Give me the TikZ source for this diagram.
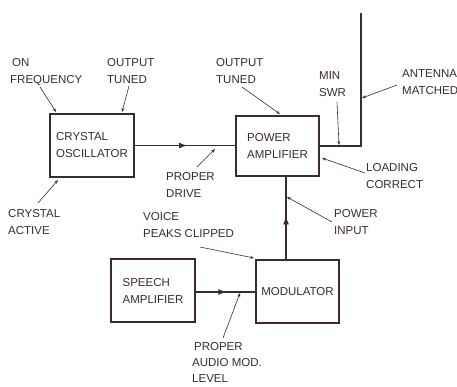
\documentclass[tikz,border=0pt]{standalone}
\usepackage{fontspec}
\setmainfont{Liberation Sans}
\usetikzlibrary{arrows.meta,decorations.markings}
\definecolor{ink}{RGB}{62,42,46}
\tikzset{
  lbl/.style={inner sep=0pt, anchor=north west, align=left, text=ink,
              font=\fontsize{11.5}{17}\selectfont},
  blk/.style={draw=ink, line width=1.2pt, inner sep=0pt, align=left, text=ink,
              font=\fontsize{11.5}{17}\selectfont},
  wire/.style={draw=ink, line width=1.2pt},
  midarrow/.style={postaction={decorate, decoration={markings,
      mark=at position #1 with {\arrow{Latex[length=8pt,width=6pt]}}}}},
  pointer/.style={draw=ink, line width=0.6pt, -{Stealth[length=4pt,width=3pt]}}
}
\begin{document}
\begin{tikzpicture}[x=1pt,y=-1pt]
\useasboundingbox (0,0) rectangle (457,386);
\fill[white] (0,0) rectangle (457,386);

% blocks
\node[blk, minimum width=84pt, minimum height=63pt] (xo)  at (92,145.5)  {CRYSTAL\\OSCILLATOR};
\node[blk, minimum width=83pt, minimum height=60pt] (pa)  at (277.5,146) {POWER\\AMPLIFIER};
\node[blk, minimum width=84pt, minimum height=63pt] (sp)  at (153,290.5) {SPEECH\\AMPLIFIER};
\node[blk, minimum width=83pt, minimum height=63pt] (mod) at (297.5,291.5) {MODULATOR};

% main signal paths
\draw[wire, midarrow=0.52] (xo.east) -- (xo.east -| pa.west);
\coordinate (pin) at (286,220);
\draw[wire, midarrow=0.52] (pin |- mod.north) -- (pin |- pa.south);
\coordinate (spl) at (195,292);
\draw[wire, midarrow=0.52] (spl) -- (spl -| mod.west);
\coordinate (ant) at (361,13);
\draw[wire] (pa.east) -| (ant);

% labels
\node[lbl] (onf)  at (10,58)   {\,ON\\FREQUENCY};
\node[lbl] (ot1)  at (107,58)  {OUTPUT\\TUNED};
\node[lbl] (pdr)  at (166,172) {PROPER\\DRIVE};
\node[lbl] (cra)  at (8,209)   {CRYSTAL\\ACTIVE};
\node[lbl] (ot2)  at (216,58)  {OUTPUT\\TUNED};
\node[lbl] (swr)  at (319,71)  {MIN\\SWR};
\node[lbl] (anm)  at (402,69)  {ANTENNA\\MATCHED};
\node[lbl] (ldc)  at (366,163) {LOADING\\CORRECT};
\node[lbl] (vpc)  at (143,212) {VOICE\\PEAKS CLIPPED};
\node[lbl] (pwi)  at (334,209) {POWER\\INPUT};
\node[lbl, font=\fontsize{11.5}{16}\selectfont] (pam) at (192,342) {\,PROPER\\AUDIO MOD.\\LEVEL};

% pointer lines
\coordinate (p1a) at (40,87);   \coordinate (p1b) at (56,112);
\coordinate (p2a) at (129,86);  \coordinate (p2b) at (122,112);
\coordinate (p3a) at (38,203);  \coordinate (p3b) at (58,180);
\coordinate (p4a) at (197,167); \coordinate (p4b) at (215,149);
\coordinate (p5a) at (242,87);  \coordinate (p5b) at (280,114);
\coordinate (p6a) at (337,102); \coordinate (p6b) at (339,145);
\coordinate (p7a) at (397,85);  \coordinate (p7b) at (362,98);
\coordinate (p8a) at (365,173); \coordinate (p8b) at (322,158);
\coordinate (p9a) at (332,222); \coordinate (p9b) at (287,197);
\coordinate (p10a) at (200,247); \coordinate (p10b) at (254,258);
\coordinate (p11a) at (223,338); \coordinate (p11b) at (240,293);
\foreach \i in {1,...,11} \draw[pointer] (p\i a) -- (p\i b);
\end{tikzpicture}
\end{document}
